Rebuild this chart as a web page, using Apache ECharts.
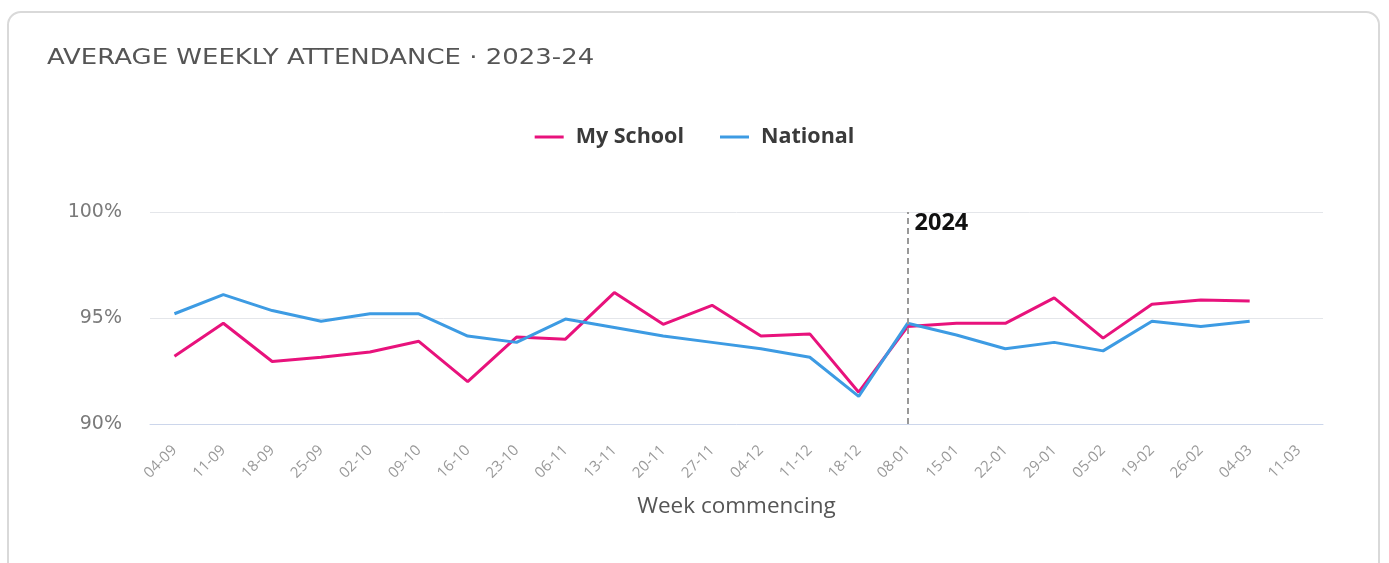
<!DOCTYPE html>
<html>
<head>
<meta charset="utf-8">
<script src="https://cdn.jsdelivr.net/npm/echarts@6/dist/echarts.min.js"></script>
<style>
  html, body { margin: 0; padding: 0; background: #fff; }
  .card {
    position: absolute; left: 7px; top: 11px; width: 1373px; height: 570px;
    border: 2px solid #d9d9d9; border-radius: 14px; box-sizing: border-box;
  }
  #chart { position: absolute; left: 0; top: 0; width: 1389px; height: 563px; }
</style>
</head>
<body>
<div class="card"></div>
<div id="chart"></div>
<script>
// week commencing labels
const weeks = ['04-09', '11-09', '18-09', '25-09', '02-10', '09-10', '16-10', '23-10',
  '06-11', '13-11', '20-11', '27-11', '04-12', '11-12', '18-12', '08-01', '15-01',
  '22-01', '29-01', '05-02', '19-02', '26-02', '04-03', '11-03'];

const mySchool = [93.2, 94.75, 92.95, 93.15, 93.4, 93.9, 92.0, 94.1, 94.0, 96.2, 94.7, 95.6,
  94.15, 94.25, 91.5, 94.6, 94.75, 94.75, 95.95, 94.05, 95.65, 95.85, 95.8, null];

const national = [95.2, 96.1, 95.35, 94.85, 95.2, 95.2, 94.15, 93.85, 94.95, 94.55, 94.15, 93.85,
  93.55, 93.15, 91.3, 94.75, 94.2, 93.55, 93.85, 93.45, 94.85, 94.6, 94.85, null];

const yearStart = '08-01';
const yearLabel = '2024';
const titleText = 'AVERAGE WEEKLY ATTENDANCE · 2023-24';

const chart = echarts.init(document.getElementById('chart'));

const option = {
  backgroundColor: 'transparent',
  animation: false,
  legend: {
    top: 121,
    left: 'center',
    itemWidth: 29,
    itemHeight: 3,
    itemGap: 36,
    icon: 'rect',
    textStyle: {
      fontFamily: 'Open Sans', fontSize: 21.5, fontWeight: 'bold', color: '#3a3a3a',
      padding: [0, 0, 0, 7],
    },
    data: ['My School', 'National'],
  },
  grid: { left: 150, right: 66, top: 212, bottom: 139 },
  xAxis: {
    type: 'category',
    data: weeks,
    boundaryGap: true,
    name: 'Week commencing',
    nameLocation: 'middle',
    nameGap: 71,
    nameTextStyle: { fontFamily: 'Open Sans', fontSize: 22.5, color: '#555' },
    axisLine: { lineStyle: { color: '#ccd6eb', width: 1 } },
    axisTick: { show: false },
    axisLabel: {
      rotate: 45,
      interval: 0,
      margin: 24,
      fontFamily: 'Open Sans',
      fontSize: 15,
      color: '#999',
    },
  },
  yAxis: {
    type: 'value',
    min: 90,
    max: 100,
    interval: 5,
    axisLine: { show: false },
    axisTick: { show: false },
    axisLabel: {
      formatter: '{value}%',
      margin: 28,
      padding: [5, 0, 0, 0],
      fontFamily: 'DejaVu Sans',
      fontSize: 19,
      color: '#7a7a7a',
    },
    splitLine: { lineStyle: { color: '#e4e6ea', width: 1 } },
  },
  series: [
    {
      name: 'My School',
      type: 'line',
      data: mySchool,
      symbol: 'none',
      color: '#e8127c',
      lineStyle: { width: 3 },
      markLine: {
        silent: true,
        symbol: 'none',
        label: { show: false },
        lineStyle: { color: '#999', type: [6, 4], width: 2 },
        data: [{ xAxis: yearStart }],
      },
    },
    {
      name: 'National',
      type: 'line',
      data: national,
      symbol: 'none',
      color: '#3d9be3',
      lineStyle: { width: 3 },
    },
  ],
};

chart.setOption(option);

// title (slightly widened to match) and the year label next to the dashed line
const pos = chart.convertToPixel({ gridIndex: 0 }, [yearStart, 100]);
chart.setOption({
  graphic: [
    {
      type: 'text',
      x: 47,
      y: 47,
      scaleX: 1.18,
      style: {
        text: titleText, fontFamily: 'DejaVu Sans', fontSize: 22, fill: '#555',
        verticalAlign: 'top',
      },
    },
    {
      type: 'text',
      left: pos[0] + 7,
      top: pos[1] - 1,
      style: { text: yearLabel, fontFamily: 'Open Sans', fontSize: 23.5, fontWeight: 'bold', fill: '#111' },
    },
  ],
});
</script>
</body>
</html>
